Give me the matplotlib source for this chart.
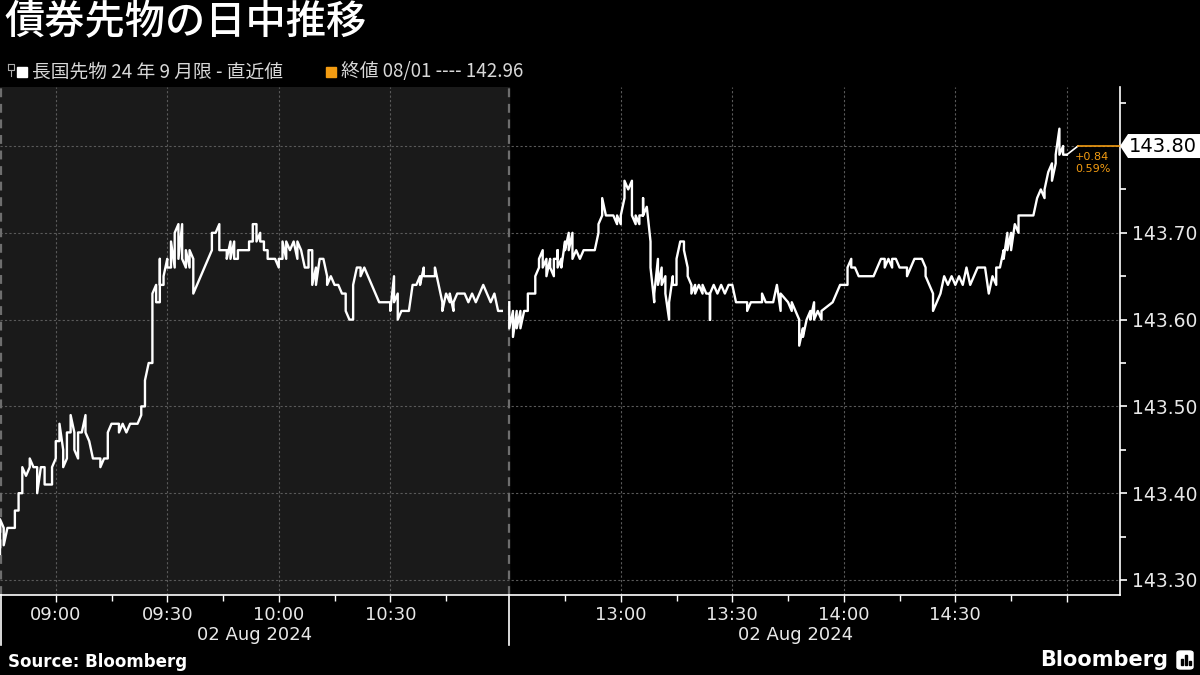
import matplotlib
matplotlib.use('Agg')
import matplotlib.pyplot as plt
import matplotlib.patches as patches
import matplotlib.transforms as mtransforms
from matplotlib.lines import Line2D
import numpy as np

plt.rcParams['font.family'] = ['Noto Sans CJK JP', 'DejaVu Sans']

# data (JGB futures Sep-24, 02 Aug 2024)
times = [
    '08:45', '08:45', '08:46', '08:46', '08:47', '08:49', '08:49', '08:50', '08:50', '08:51',
    '08:51', '08:52', '08:53', '08:53', '08:54', '08:55', '08:55', '08:56', '08:57', '08:57',
    '08:59', '08:59', '09:00', '09:00', '09:01', '09:01', '09:02', '09:02', '09:03', '09:03',
    '09:04', '09:04', '09:05', '09:05', '09:06', '09:06', '09:07', '09:08', '09:08', '09:09',
    '09:10', '09:12', '09:12', '09:13', '09:14', '09:14', '09:15', '09:17', '09:17', '09:18',
    '09:19', '09:20', '09:22', '09:23', '09:23', '09:24', '09:24', '09:25', '09:26', '09:26',
    '09:26', '09:27', '09:27', '09:28', '09:28', '09:28', '09:29', '09:29', '09:30', '09:30',
    '09:31', '09:31', '09:32', '09:32', '09:33', '09:33', '09:34', '09:34', '09:35', '09:35',
    '09:36', '09:36', '09:37', '09:37', '09:41', '09:42', '09:42', '09:43', '09:44', '09:44',
    '09:44', '09:46', '09:46', '09:47', '09:47', '09:48', '09:48', '09:49', '09:49', '09:52',
    '09:52', '09:53', '09:53', '09:54', '09:54', '09:55', '09:55', '09:56', '09:56', '09:57',
    '09:57', '09:59', '10:00', '10:00', '10:01', '10:01', '10:02', '10:02', '10:03', '10:04',
    '10:05', '10:05', '10:06', '10:07', '10:08', '10:08', '10:09', '10:09', '10:10', '10:10',
    '10:11', '10:12', '10:13', '10:13', '10:14', '10:15', '10:16', '10:17', '10:18', '10:18',
    '10:19', '10:20', '10:20', '10:21', '10:22', '10:22', '10:23', '10:24', '10:25', '10:26',
    '10:27', '10:30', '10:30', '10:31', '10:31', '10:32', '10:32', '10:33', '10:35', '10:36',
    '10:37', '10:38', '10:38', '10:39', '10:39', '10:42', '10:42', '10:43', '10:44', '10:44',
    '10:45', '10:46', '10:46', '10:47', '10:47', '10:48', '10:50', '10:51', '10:52', '10:53',
    '10:54', '10:55', '10:56', '10:57', '10:58', '10:59', '11:00',
]
prices = [
    143.33, 143.37, 143.36, 143.34, 143.36, 143.36, 143.38, 143.38, 143.40, 143.40,
    143.43, 143.42, 143.43, 143.44, 143.43, 143.43, 143.40, 143.43, 143.43, 143.41,
    143.41, 143.43, 143.44, 143.46, 143.46, 143.48, 143.45, 143.43, 143.44, 143.47,
    143.47, 143.49, 143.47, 143.45, 143.44, 143.47, 143.47, 143.49, 143.47, 143.46,
    143.44, 143.44, 143.43, 143.44, 143.44, 143.47, 143.48, 143.48, 143.47, 143.48,
    143.47, 143.48, 143.48, 143.49, 143.50, 143.50, 143.53, 143.55, 143.55, 143.60,
    143.63, 143.64, 143.62, 143.62, 143.67, 143.64, 143.64, 143.65, 143.67, 143.66,
    143.66, 143.69, 143.66, 143.70, 143.71, 143.67, 143.71, 143.67, 143.66, 143.68,
    143.66, 143.68, 143.67, 143.63, 143.67, 143.68, 143.70, 143.70, 143.71, 143.70,
    143.68, 143.68, 143.67, 143.69, 143.67, 143.69, 143.67, 143.67, 143.68, 143.68,
    143.69, 143.69, 143.71, 143.71, 143.69, 143.70, 143.69, 143.69, 143.68, 143.68,
    143.67, 143.67, 143.66, 143.67, 143.67, 143.69, 143.67, 143.69, 143.68, 143.69,
    143.67, 143.69, 143.68, 143.66, 143.66, 143.68, 143.68, 143.64, 143.66, 143.64,
    143.67, 143.67, 143.65, 143.64, 143.65, 143.64, 143.64, 143.63, 143.63, 143.61,
    143.60, 143.60, 143.64, 143.66, 143.66, 143.65, 143.66, 143.65, 143.64, 143.63,
    143.62, 143.62, 143.61, 143.65, 143.62, 143.63, 143.60, 143.61, 143.61, 143.64,
    143.64, 143.65, 143.64, 143.66, 143.65, 143.65, 143.66, 143.64, 143.62, 143.61,
    143.63, 143.62, 143.63, 143.61, 143.62, 143.63, 143.63, 143.62, 143.63, 143.62,
    143.63, 143.64, 143.63, 143.62, 143.63, 143.61, 143.61,
]

pm_times = [
    '12:30', '12:30', '12:31', '12:31', '12:32', '12:32', '12:33', '12:33', '12:34', '12:35',
    '12:35', '12:37', '12:37', '12:38', '12:38', '12:39', '12:39', '12:40', '12:40', '12:41',
    '12:41', '12:42', '12:42', '12:43', '12:43', '12:43', '12:44', '12:44', '12:45', '12:45',
    '12:46', '12:46', '12:47', '12:47', '12:48', '12:49', '12:50', '12:53', '12:54', '12:54',
    '12:55', '12:55', '12:56', '12:58', '12:59', '12:59', '13:00', '13:00', '13:01', '13:01',
    '13:02', '13:03', '13:03', '13:04', '13:04', '13:05', '13:05', '13:06', '13:06', '13:06',
    '13:07', '13:08', '13:08', '13:09', '13:09', '13:10', '13:10', '13:11', '13:11', '13:12',
    '13:12', '13:13', '13:13', '13:14', '13:14', '13:15', '13:15', '13:16', '13:17', '13:17',
    '13:18', '13:18', '13:19', '13:19', '13:20', '13:20', '13:21', '13:22', '13:22', '13:23',
    '13:24', '13:24', '13:24', '13:25', '13:26', '13:27', '13:28', '13:29', '13:30', '13:31',
    '13:34', '13:34', '13:35', '13:38', '13:38', '13:39', '13:41', '13:42', '13:43', '13:43',
    '13:45', '13:46', '13:46', '13:47', '13:48', '13:48', '13:49', '13:49', '13:50', '13:51',
    '13:51', '13:52', '13:52', '13:53', '13:54', '13:54', '13:57', '13:58', '13:59', '14:01',
    '14:01', '14:02', '14:02', '14:03', '14:04', '14:08', '14:09', '14:10', '14:11', '14:11',
    '14:12', '14:13', '14:13', '14:14', '14:15', '14:17', '14:17', '14:18', '14:19', '14:21',
    '14:22', '14:22', '14:23', '14:24', '14:24', '14:25', '14:26', '14:27', '14:28', '14:29',
    '14:30', '14:31', '14:32', '14:33', '14:34', '14:35', '14:36', '14:38', '14:39', '14:40',
    '14:41', '14:41', '14:42', '14:43', '14:43', '14:44', '14:44', '14:45', '14:45', '14:46',
    '14:47', '14:47', '14:51', '14:52', '14:53', '14:54', '14:54', '14:55', '14:56', '14:56',
    '14:57', '14:57', '14:58', '14:58', '14:59', '14:59', '15:00',
]
pm_prices = [
    143.62, 143.59, 143.61, 143.58, 143.61, 143.59, 143.61, 143.59, 143.61, 143.61,
    143.63, 143.63, 143.65, 143.66, 143.67, 143.68, 143.66, 143.67, 143.65, 143.67,
    143.66, 143.65, 143.67, 143.67, 143.68, 143.66, 143.67, 143.66, 143.69, 143.68,
    143.70, 143.68, 143.70, 143.67, 143.68, 143.67, 143.68, 143.68, 143.70, 143.71,
    143.72, 143.74, 143.72, 143.72, 143.71, 143.72, 143.71, 143.72, 143.74, 143.76,
    143.75, 143.76, 143.72, 143.71, 143.72, 143.71, 143.72, 143.72, 143.74, 143.72,
    143.73, 143.69, 143.66, 143.62, 143.63, 143.67, 143.64, 143.66, 143.64, 143.65,
    143.63, 143.60, 143.62, 143.65, 143.64, 143.64, 143.67, 143.69, 143.69, 143.68,
    143.66, 143.65, 143.64, 143.63, 143.64, 143.63, 143.64, 143.63, 143.64, 143.63,
    143.63, 143.60, 143.63, 143.64, 143.63, 143.64, 143.63, 143.64, 143.64, 143.62,
    143.62, 143.61, 143.62, 143.62, 143.63, 143.62, 143.62, 143.64, 143.61, 143.63,
    143.62, 143.61, 143.62, 143.61, 143.60, 143.57, 143.59, 143.58, 143.60, 143.61,
    143.60, 143.62, 143.60, 143.61, 143.60, 143.61, 143.62, 143.63, 143.64, 143.64,
    143.66, 143.67, 143.66, 143.66, 143.65, 143.65, 143.66, 143.67, 143.67, 143.66,
    143.67, 143.66, 143.67, 143.67, 143.66, 143.66, 143.65, 143.66, 143.67, 143.67,
    143.66, 143.65, 143.64, 143.63, 143.61, 143.62, 143.63, 143.65, 143.64, 143.65,
    143.64, 143.65, 143.64, 143.66, 143.64, 143.65, 143.66, 143.66, 143.63, 143.65,
    143.64, 143.66, 143.66, 143.68, 143.67, 143.70, 143.68, 143.70, 143.68, 143.71,
    143.70, 143.72, 143.72, 143.74, 143.75, 143.74, 143.75, 143.77, 143.78, 143.76,
    143.78, 143.79, 143.82, 143.79, 143.80, 143.79, 143.79,
]

last_value = 143.80
prev_close = 142.96
prev_date = '08/01'
date_label = '02 Aug 2024'
title = '債券先物の日中推移'
series_name = '長国先物 24 年 9 月限 - 直近値'

tick_times = ['09:00', '09:30', '10:00', '10:30', '13:00', '13:30', '14:00', '14:30', '15:00']
tick_labels = ['09:00', '09:30', '10:00', '10:30', '13:00', '13:30', '14:00', '14:30', '']
minor_times = ['09:15', '09:45', '10:15', '10:45', '12:45', '13:15', '13:45', '14:15', '14:45']
y_ticks = [143.30, 143.40, 143.50, 143.60, 143.70, 143.80]

AM_OPEN = 8 * 60 + 45
AM_LEN = 137          # 08:45 - 11:02
PM_OPEN = 12 * 60 + 30
X_END = 301.3


def tmin(s):
    # trading-minute axis, lunch break removed
    h, m = map(int, s.split(':'))
    v = h * 60 + m
    if v < 12 * 60:
        return v - AM_OPEN
    return AM_LEN + v - PM_OPEN


W, H = 1200, 675
fig = plt.figure(figsize=(12, 6.75), dpi=100, facecolor='black')
ax = fig.add_axes([0, 1 - 595 / H, 1120 / W, (595 - 87) / H])
ax.set_facecolor('black')
ax.set_xlim(0, X_END)
ax.set_ylim(143.2827, 143.868)

ax.axvspan(0, AM_LEN, color='#1a1a1a', zorder=0)

grid_kw = dict(color='#5a5a5a', lw=0.8, dashes=(2, 2), zorder=1)
for t in tick_times:
    ax.axvline(tmin(t), **grid_kw)
for v in y_ticks:
    ax.axhline(v, **grid_kw)
ax.axvline(AM_LEN, color='#6e6e6e', lw=1.6, dashes=(4, 3), zorder=1)
ax.axvline(0.3, color='#6e6e6e', lw=1.6, dashes=(4, 3), zorder=1)

am_x = [tmin(t) for t in times]
pm_x = [tmin(t) for t in pm_times]
ax.plot(am_x, prices, color='white', lw=1.7, zorder=3)
ax.plot(pm_x, pm_prices, color='white', lw=1.7, zorder=3)

# leader + orange last-value line
lx = pm_x[-1] + 3
ax.plot([pm_x[-1], lx], [pm_prices[-1], last_value], color='white', lw=1.2, zorder=3)
ax.plot([lx, X_END], [last_value, last_value], color='#f39c12', lw=1.2, zorder=3,
        clip_on=False)
chg = last_value - prev_close
pct = chg / prev_close * 100
ax.annotate(f'+{chg:.2f}\n{pct:.2f}%', xy=(lx, last_value), xytext=(-2, -4),
            textcoords='offset points', ha='left', va='top', color='#f39c12',
            fontsize=8, family=['DejaVu Sans'], linespacing=1.25)

# axes styling
for s in ['top', 'left']:
    ax.spines[s].set_visible(False)
ax.spines['bottom'].set_color('white')
ax.spines['right'].set_color('white')
ax.spines['bottom'].set_linewidth(1.2)
ax.spines['right'].set_linewidth(1.2)

ax.yaxis.tick_right()
ax.set_yticks(y_ticks)
# the last-value tag covers the tick at the same level
ax.set_yticklabels(['' if abs(v - last_value) < 1e-9 else f'{v:.2f}' for v in y_ticks],
                   family=['DejaVu Sans'])
ax.set_yticks([v + 0.05 for v in y_ticks], minor=True)
ax.tick_params(axis='y', which='major', colors='white', labelcolor='#e8e8e8',
               length=5, width=1.2, labelsize=13.5, pad=4)
ax.tick_params(axis='y', which='minor', colors='white', length=4, width=1.2)

ax.set_xticks([tmin(t) for t in tick_times])
ax.set_xticklabels(tick_labels, family=['DejaVu Sans'])
ax.set_xticks([tmin(t) for t in minor_times], minor=True)
ax.tick_params(axis='x', which='major', colors='white', labelcolor='#e8e8e8',
               length=5, width=1, labelsize=13, pad=3)
ax.tick_params(axis='x', which='minor', colors='white', length=4, width=1)

# session separators below the axis and date labels
for xv in [0.3, AM_LEN]:
    ax.axvline(xv, ymin=-50 / 508, ymax=0, color='white', lw=1.2, clip_on=False)
trans = mtransforms.blended_transform_factory(ax.transData, ax.transAxes)
ax.text(AM_LEN / 2, -40 / 508, date_label, transform=trans, ha='center', va='center',
        color='#e8e8e8', fontsize=13, family=['DejaVu Sans'])
ax.text(tmin('13:47'), -40 / 508, date_label, transform=trans, ha='center', va='center',
        color='#e8e8e8', fontsize=13, family=['DejaVu Sans'])

# last value tag
fig.canvas.draw()
ypix = ax.transData.transform((0, last_value))[1]
xs = np.array([1120, 1128, 1200, 1200, 1128]) / W
ys = (ypix + np.array([0, 12, 12, -12, -12])) / H
fig.add_artist(patches.Polygon(np.column_stack([xs, ys]), closed=True,
                               transform=fig.transFigure, facecolor='white',
                               edgecolor='none'))
fig.text(1163 / W, ypix / H, f'{last_value:.2f}', ha='center', va='center',
         color='black', fontsize=14, family=['DejaVu Sans'])

# title and legend
fig.text(4 / W, 1 - 23 / H, title, ha='left', va='center', color='white',
         fontsize=29, fontweight='medium')
fig.add_artist(Line2D(np.array([8, 14, 14, 8, 8]) / W,
                      1 - np.array([64, 64, 70, 70, 64]) / H, color='#aaaaaa', lw=0.8))
fig.add_artist(Line2D(np.array([11, 11]) / W, 1 - np.array([70, 76]) / H,
                      color='#aaaaaa', lw=0.8))
fig.add_artist(patches.Rectangle((17 / W, 1 - 77 / H), 10 / W, 10 / H,
                                 transform=fig.transFigure, color='white'))
fig.text(32 / W, 1 - 72 / H, series_name, ha='left', va='center', color='#d8d8d8',
         fontsize=13.5)
fig.add_artist(patches.Rectangle((326 / W, 1 - 77 / H), 10 / W, 10 / H,
                                 transform=fig.transFigure, color='#f39c12'))
fig.text(341 / W, 1 - 72 / H, f'終値 {prev_date} ---- {prev_close:.2f}', ha='left',
         va='center', color='#d8d8d8', fontsize=13.5)

# footer
fig.text(8 / W, 1 - 662 / H, 'Source: Bloomberg', ha='left', va='center', color='white',
         fontsize=12, fontweight='bold', family=['DejaVu Sans'])
fig.text(1168 / W, 1 - 660 / H, 'Bloomberg', ha='right', va='center', color='white',
         fontsize=15, fontweight='bold', family=['DejaVu Sans'])
fig.add_artist(patches.FancyBboxPatch((1177 / W, 1 - 669 / H), 16 / W, 18 / H,
                                      boxstyle='round,pad=0,rounding_size=0.003',
                                      transform=fig.transFigure, color='white'))
for bx, bh in [(1181, 6), (1185, 10), (1189, 4)]:
    fig.add_artist(patches.Rectangle((bx / W, 1 - 665 / H), 2 / W, bh / H,
                                     transform=fig.transFigure, color='black'))

fig.savefig('out.png', dpi=100, facecolor='black')
